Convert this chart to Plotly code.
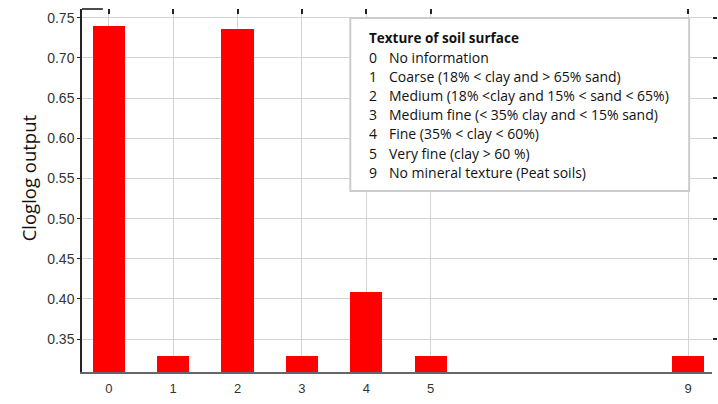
import plotly.graph_objects as go

# Soil texture classes and their cloglog model output
texture_codes = [0, 1, 2, 3, 4, 5, 9]
cloglog_output = [0.740, 0.329, 0.736, 0.329, 0.409, 0.329, 0.329]
y_ticks = [0.35, 0.40, 0.45, 0.50, 0.55, 0.60, 0.65, 0.70, 0.75]

legend_title = "Texture of soil surface"
legend_codes = ["0", "1", "2", "3", "4", "5", "9"]
legend_labels = [
    "No information",
    "Coarse (18% < clay and > 65% sand)",
    "Medium (18% <clay and 15% < sand < 65%)",
    "Medium fine (< 35% clay and < 15% sand)",
    "Fine (35% < clay < 60%)",
    "Very fine (clay > 60 %)",
    "No mineral texture (Peat soils)",
]

W, H = 718, 404
ML, MR, MT, MB = 82, 2, 9, 32
PW, PH = W - ML - MR, H - MT - MB
XR = [-0.417, 9.37]
YR = [0.309, 0.761]


def px_x(x):
    return (x - ML) / PW


def px_y(y):
    return (H - MB - y) / PH


fig = go.Figure()
fig.add_trace(go.Bar(
    x=texture_codes, y=cloglog_output, width=0.5,
    marker=dict(color="#ff0000", line=dict(width=0)),
    showlegend=False,
))
# invisible helper trace so the mirrored tick axes get drawn
fig.add_trace(go.Scatter(x=[texture_codes[0]], y=[y_ticks[0]], xaxis="x2", yaxis="y2",
                         mode="markers", marker=dict(opacity=0), showlegend=False,
                         hoverinfo="skip"))

fig.update_layout(
    width=W, height=H,
    margin=dict(l=ML, r=MR, t=MT, b=MB),
    paper_bgcolor="white", plot_bgcolor="white",
    bargap=0,
    xaxis=dict(
        range=XR, tickvals=texture_codes, ticktext=[str(c) for c in texture_codes],
        showgrid=True, gridcolor="#d3d3d3", gridwidth=1,
        showline=True, linecolor="#666666", linewidth=1.5,
        ticks="outside", ticklen=4, tickcolor="rgba(0,0,0,0)",
        tickfont=dict(family="Liberation Sans, Arial", size=13, color="#333333"),
        zeroline=False,
    ),
    yaxis=dict(
        range=YR, tickvals=y_ticks, ticktext=[f"{v:.2f}" for v in y_ticks],
        showgrid=True, gridcolor="#d3d3d3", gridwidth=1,
        showline=True, linecolor="#222222", linewidth=1.5,
        ticks="outside", ticklen=3, tickcolor="#222222",
        tickfont=dict(family="Liberation Sans, Arial", size=14, color="#333333"),
        zeroline=False,
    ),
    xaxis2=dict(
        range=XR, overlaying="x", side="top", tickvals=texture_codes,
        showticklabels=False, ticks="inside", ticklen=5, tickwidth=1.5,
        tickcolor="#222222", showgrid=False, showline=False, zeroline=False,
    ),
    yaxis2=dict(
        range=YR, overlaying="y", side="right", tickvals=y_ticks,
        showticklabels=False, ticks="outside", ticklen=4, tickwidth=1.5,
        tickcolor="#222222", showgrid=False, showline=False, zeroline=False,
    ),
)

# y-axis title
fig.add_annotation(xref="paper", yref="paper", x=px_x(28), y=px_y(178),
                   text="Cloglog output", textangle=-90, showarrow=False,
                   xanchor="center", yanchor="middle",
                   font=dict(family="Open Sans", size=18.5, color="#111111"))

# short top-left border stroke
fig.add_shape(type="line", xref="paper", yref="paper",
              x0=0, x1=px_x(103), y0=1, y1=1,
              line=dict(color="#111111", width=1.5))

# legend box
fig.add_shape(type="rect", xref="paper", yref="paper",
              x0=px_x(352), x1=px_x(693), y0=px_y(191), y1=px_y(18),
              line=dict(color="#cccccc", width=2), fillcolor="white", layer="above")

legend_font = dict(family="Open Sans", size=14, color="#111111")
fig.add_annotation(xref="paper", yref="paper", x=px_x(369), y=px_y(38),
                   text=f"<b>{legend_title}</b>", showarrow=False,
                   xanchor="left", yanchor="middle",
                   font=dict(family="Open Sans", size=13.5, color="#111111"))
for i, (code, label) in enumerate(zip(legend_codes, legend_labels)):
    yy = px_y(57 + i * 19.2)
    fig.add_annotation(xref="paper", yref="paper", x=px_x(369), y=yy, text=code,
                       showarrow=False, xanchor="left", yanchor="middle", font=legend_font)
    fig.add_annotation(xref="paper", yref="paper", x=px_x(389), y=yy, text=label,
                       showarrow=False, xanchor="left", yanchor="middle", font=legend_font)

fig.write_html("out.html", config={"displayModeBar": False})
